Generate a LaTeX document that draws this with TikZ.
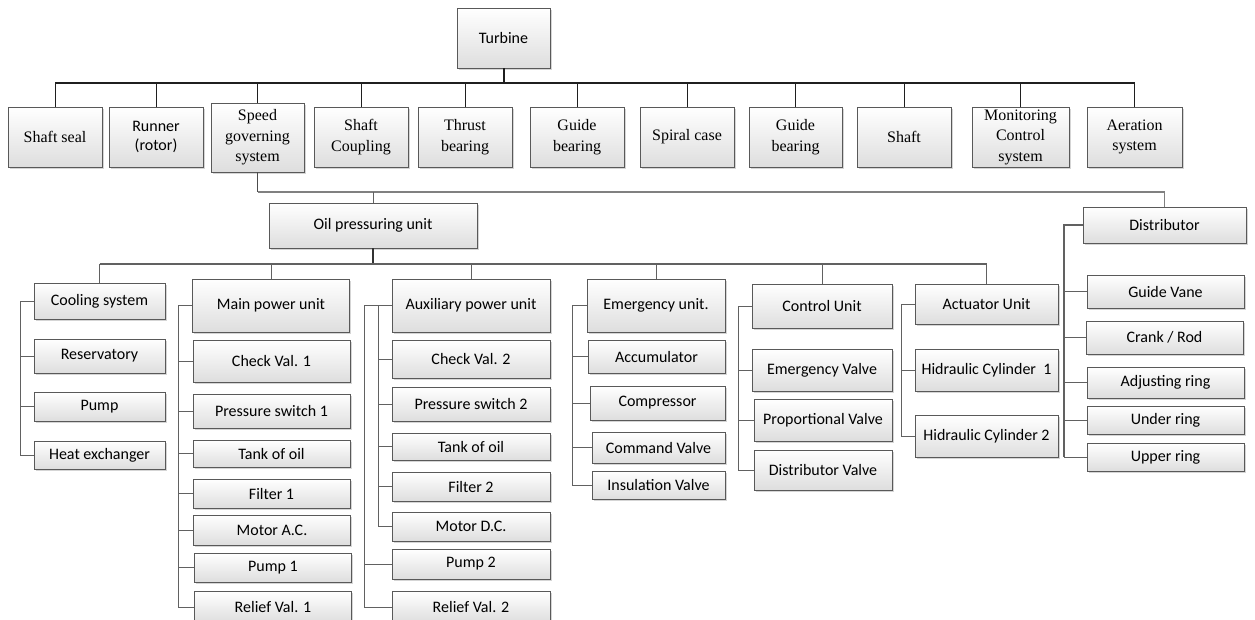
\documentclass[tikz,border=0pt]{standalone}
\usepackage{fontspec}
\setmainfont{Carlito}
\newfontfamily\tnr{Liberation Serif}
\usetikzlibrary{shadows}
\tikzset{
blk/.style={draw=black!65,top color=white,bottom color=black!13,drop shadow={shadow xshift=1.5pt,shadow yshift=-1.5pt,fill=black!30,opacity=.55},inner sep=1pt,align=center,font=\fontsize{16}{18.5}\selectfont},
tnrb/.style={blk,font=\tnr\fontsize{16}{20.5}\selectfont},
ln/.style={draw=black!62,line width=1pt},
lnk/.style={draw=black!88,line width=1pt}
}
\begin{document}
\begin{tikzpicture}[x=1pt,y=-1pt]
\useasboundingbox (0,0) rectangle (1255,619);
\clip (0,0) rectangle (1255,619);
\coordinate (tb) at (0,83);
\coordinate (sb) at (0,192);
\coordinate (ob) at (0,264);
\node[blk,minimum width=93,minimum height=60] (turb) at (503.5,38) {Turbine};
\node[blk,minimum width=94,minimum height=60] (runner) at (156,137) {Runner\\(rotor)};
\node[tnrb,minimum width=93,minimum height=69] (speed) at (257.5,137.5) {Speed\\governing\\system};
\foreach \n/\x/\w/\t in {seal/55/94/Shaft seal,coup/361/94/{Shaft\\Coupling},thrust/465/94/{Thrust\\bearing},guidea/577/94/{Guide\\bearing},spiral/687/94/Spiral case,guideb/795.5/93/{Guide\\bearing},shaft/904/94/Shaft,monit/1020.5/97/{Monitoring\\Control\\system},aer/1134.5/95/{Aeration\\system}}{\node[tnrb,minimum width=\w,minimum height=60] (\n) at (\x,137) {\t};}
\foreach \n in {seal,runner,speed,coup,thrust,guidea,spiral,guideb,shaft,monit,aer}{\draw[lnk] (\n.north) -- (\n.north |- tb);}
\draw[lnk,line width=1.5pt] (seal.north |- tb) -- (aer.north |- tb);
\draw[lnk,line width=2pt] (turb.south) -- (turb.south |- tb);
\node[blk,minimum width=208,minimum height=45] (oil) at (373,225.5) {Oil pressuring unit};
\node[blk,minimum width=163,minimum height=36] (dist) at (1164.5,225) {Distributor};
\draw[ln,draw=black!70] (speed.south) -- (speed.south |- sb);
\draw[ln,draw=black!50,line width=1.6pt] (speed.south |- sb) -| (dist.north);
\draw[ln] (oil.north) -- (oil.north |- sb);
\node[blk,minimum width=131,minimum height=36] (cool) at (99.5,301) {Cooling system};
\node[blk,minimum width=157,minimum height=53] (mainpu) at (271,305.5) {Main power unit};
\node[blk,minimum width=158,minimum height=53] (aux) at (471,305.5) {Auxiliary power unit};
\node[blk,minimum width=138,minimum height=53] (emerg) at (656,305.5) {Emergency unit.};
\node[blk,minimum width=140,minimum height=44] (ctrl) at (822,306) {Control Unit};
\node[blk,minimum width=143,minimum height=40] (act) at (986.5,304) {Actuator Unit};
\draw[ln,draw=black!80,line width=2pt] (oil.south) -- (oil.south |- ob);
\draw[ln,line width=1.3pt] (cool.north |- ob) -- (act.north |- ob);
\foreach \n in {cool,mainpu,aux,emerg,ctrl,act}{\draw[ln] (\n.north) -- (\n.north |- ob);}
\coordinate (ct) at (20,0);
\foreach \n/\y/\h/\t in {res/356/34/Reservatory,pumpc/406.5/29/Pump,heat/455/28/Heat exchanger}{\node[blk,minimum width=131,minimum height=\h] (\n) at (99.5,\y) {\t};\draw[ln] (\n.west) -- (\n.west -| ct);}
\draw[ln] (cool.west) -- (cool.west -| ct) -- (heat.west -| ct);
\coordinate (mt) at (178,0);
\foreach \n/\x/\y/\h/\t in {chka/271.5/361/42/Check Val. 1,psa/271.5/411/34/Pressure switch 1,tanka/271.5/453.5/27/Tank of oil,filta/271.5/493.5/29/Filter 1,motac/272/530/30/Motor A.C.,pumpa/273/567.5/29/Pump 1,rela/273/607/32/Relief Val. 1}{\node[blk,minimum width=157,minimum height=\h] (\n) at (\x,\y) {\t};\draw[ln] (\n.west) -- (\n.west -| mt);}
\draw[ln] (mainpu.west) -- (mainpu.west -| mt) -- (rela.west -| mt);
\coordinate (ati) at (378,0);
\coordinate (ato) at (364,0);
\foreach \n/\y/\h/\t in {chkb/359/38/Check Val. 2,psb/404/34/Pressure switch 2,tankb/446.5/27/Tank of oil,filtb/486.5/29/Filter 2,motdc/526.5/29/Motor D.C.}{\node[blk,minimum width=158,minimum height=\h] (\n) at (471,\y) {\t};\draw[ln] (\n.west) -- (\n.west -| ati);}
\foreach \n/\y/\h/\t in {pumpb/564/30/Pump 2,relb/607/32/Relief Val. 2}{\node[blk,minimum width=158,minimum height=\h] (\n) at (471,\y) {\t};\draw[ln] (\n.west) -- (\n.west -| ato);}
\draw[ln] (aux.west) -- (aux.west -| ato) -- (relb.west -| ato);
\draw[ln] (aux.west -| ati) -- (motdc.west -| ati);
\coordinate (et) at (572,0);
\foreach \n/\x/\y/\w/\h/\t in {accu/656.5/356.5/137/33/Accumulator,comp/657.5/403/135/34/Compressor,cmdv/658.5/447.5/133/31/Command Valve,insv/658.5/485/133/28/Insulation Valve}{\node[blk,minimum width=\w,minimum height=\h] (\n) at (\x,\y) {\t};\draw[ln] (\n.west) -- (\n.west -| et);}
\draw[ln] (emerg.west) -- (emerg.west -| et) -- (insv.west -| et);
\coordinate (cu) at (738,0);
\foreach \n/\x/\w/\y/\h/\t in {emv/822/140/370/42/Emergency Valve,propv/823/138/420/42/Proportional Valve,distv/823/138/470/40/Distributor Valve}{\node[blk,minimum width=\w,minimum height=\h] (\n) at (\x,\y) {\t};\draw[ln] (\n.west) -- (\n.west -| cu);}
\draw[ln] (ctrl.west) -- (ctrl.west -| cu) -- (distv.west -| cu);
\coordinate (au) at (901,0);
\foreach \n/\y/\t in {hca/370/Hidraulic Cylinder~~1,hcb/436.5/Hidraulic Cylinder 2}{\node[blk,minimum width=143,minimum height=42] (\n) at (986.5,\y) {\t};\draw[ln] (\n.west) -- (\n.west -| au);}
\draw[ln] (act.west) -- (act.west -| au) -- (hcb.west -| au);
\coordinate (du) at (1064,0);
\foreach \n/\x/\y/\h/\t in {gv/1165.5/291.5/33/Guide Vane,crank/1164.5/337.5/33/{Crank / Rod},adj/1165.5/382.5/31/Adjusting ring,under/1165.5/420/28/Under ring,upper/1165.5/457/28/Upper ring}{\node[blk,minimum width=157,minimum height=\h] (\n) at (\x,\y) {\t};\draw[ln] (\n.west) -- (\n.west -| du);}
\draw[ln,line width=1.3pt] (dist.west) -- (dist.west -| du) -- (upper.west -| du);
\end{tikzpicture}
\end{document}
